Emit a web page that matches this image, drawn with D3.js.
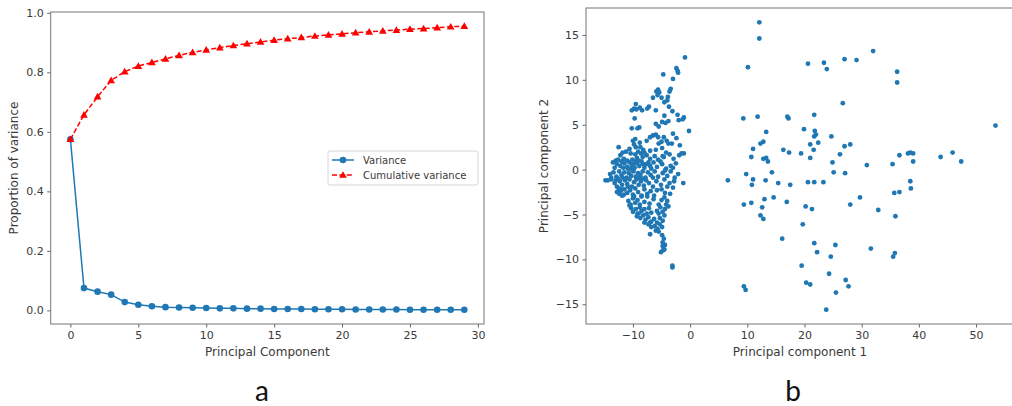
<!DOCTYPE html>
<html>
<head>
<meta charset="utf-8">
<script src="https://cdn.jsdelivr.net/npm/d3@7"></script>
<style>
  body { margin: 0; background: #fff; }
  svg text { font-family: "DejaVu Sans", sans-serif; fill: #3a3a3a; }
</style>
</head>
<body>
<svg id="fig" width="1012" height="406"></svg>
<script>
// ---- panel a : explained variance ----
const components = [0,1,2,3,4,5,6,7,8,9,10,11,12,13,14,15,16,17,18,19,20,21,22,23,24,25,26,27,28,29];
const variance = [0.575,0.075,0.063,0.053,0.028,0.019,0.014,0.011,0.010,0.009,0.008,0.007,0.007,0.006,0.006,
                  0.005,0.005,0.005,0.004,0.004,0.004,0.003,0.003,0.003,0.003,0.002,0.002,0.002,0.002,0.002];
const cumulative = [0.575,0.657,0.718,0.773,0.802,0.821,0.833,0.845,0.857,0.867,0.875,0.883,0.890,0.896,0.902,
                    0.908,0.913,0.917,0.922,0.926,0.929,0.933,0.936,0.939,0.942,0.945,0.947,0.950,0.953,0.955];
const xTicksA = [0,5,10,15,20,25,30];
const yTicksA = [0.0,0.2,0.4,0.6,0.8,1.0];
const legendLabels = ["Variance","Cumulative variance"];

// ---- panel b : scores on PC1 / PC2 ----
const scores = [
  // left cluster
  [-0.9,12.5],[-2.4,11.3],[-2.2,11.0],[-2.1,10.8],[-4.7,10.6],[-3.0,10.1],[-3.4,9.0],[-3.6,8.7],[-5.6,8.9],[-5.4,8.6],
  [-5.7,8.3],[-5.9,8.7],[-5.0,8.0],[-3.9,8.1],[-4.0,7.7],[-6.5,8.0],[-4.5,7.5],[-9.5,7.3],[-7.2,7.0],[-3.7,7.0],
  [-10.2,6.6],[-9.8,6.8],[-9.4,6.7],[-8.8,6.9],[-8.4,6.6],[-7.5,6.8],[-3.1,6.5],[-6.0,6.6],
  [-4.5,6.0],[-2.2,6.1],[-9.7,5.7],[-1.1,5.8],[-1.3,5.6],[-4.9,5.3],[-4.3,5.2],[-3.8,5.4],[-6.0,5.1],[-2.0,5.5],
  [-10.2,4.6],[-9.2,4.6],[-0.2,4.3],[-3.0,4.0],[-8.9,4.7],[-5.5,4.8],
  [-6.5,3.8],[-6.0,3.9],[-5.6,3.6],[-4.6,3.6],[-7.0,3.6],[-7.6,3.2],[-4.1,3.2],[-10.0,3.2],[-9.6,3.4],[-8.8,3.0],[-2.4,3.5],[-5.0,3.1],
  [-5.5,2.9],[-3.8,2.9],[-3.2,2.9],[-12.5,2.5],[-9.5,2.5],[-8.7,2.5],[-9.8,2.8],[-1.8,2.7],[-6.0,2.2],[-4.9,2.4],
  [-7.0,2.1],[-10.6,2.3],[-8.2,2.2],[-9.1,2.0],[-11.2,2.0],
  [-10.4,1.8],[-9.6,1.7],[-8.6,1.8],[-8.0,1.9],[-1.5,1.8],[-1.1,1.8],[-1.9,1.6],[-4.8,1.5],[-4.6,1.4],[-6.2,1.5],
  [-11.6,1.2],[-7.0,1.2],[-2.9,1.2],[-13.0,1.0],[-12.6,1.1],[-11.0,1.0],[-9.3,1.3],[-10.1,1.1],[-8.3,1.4],[-7.6,1.6],
  [-12.2,1.6],[-5.6,1.1],[-3.6,1.7],[-9.0,1.0],[-11.8,1.9],[-4.2,1.9],
  [-13.5,0.8],[-12.8,0.6],[-12.2,0.4],[-11.5,0.7],[-11.0,0.3],[-10.6,0.8],[-10.2,0.5],[-9.7,0.2],[-9.3,0.7],[-8.9,0.4],
  [-8.5,0.9],[-8.0,0.2],[-7.6,0.6],[-7.0,0.4],[-6.4,0.8],[-5.8,0.3],[-4.9,0.6],[-4.2,0.1],[-3.4,0.4],[-2.5,0.7],
  [-13.2,0.2],[-12.0,0.9],[-10.9,0.1],[-9.5,0.9],[-8.2,0.6],[-6.8,0.1],[-5.2,0.9],[-3.0,0.2],[-11.7,0.2],[-10.4,0.1],
  [-9.9,0.6],[-7.3,0.8],
  [-14.0,-0.5],[-13.4,-0.3],[-12.9,-0.8],[-12.4,-0.2],[-12.0,-0.6],[-11.5,-0.3],[-11.1,-0.9],[-10.7,-0.4],[-10.3,-0.7],[-9.9,-0.2],
  [-9.5,-0.8],[-9.1,-0.4],[-8.7,-0.6],[-8.3,-0.2],[-7.8,-0.9],[-7.4,-0.3],[-6.9,-0.6],[-6.2,-0.2],[-5.6,-0.8],[-4.8,-0.4],
  [-4.0,-0.7],[-3.4,-0.2],[-2.1,-0.5],[-13.8,-0.9],[-11.8,-0.9],[-10.0,-0.1],[-8.9,-0.95],[-6.5,-0.9],[-4.4,-0.1],[-2.7,-0.9],
  [-14.8,-1.2],[-14.4,-1.2],[-13.8,-1.1],[-13.2,-1.5],[-12.8,-1.9],[-12.3,-1.3],[-11.9,-1.7],[-11.4,-1.2],[-11.0,-1.6],[-10.6,-1.1],
  [-10.2,-1.9],[-9.8,-1.4],[-9.4,-1.1],[-9.0,-1.7],[-8.6,-1.3],[-8.1,-1.8],[-7.7,-1.2],[-7.2,-1.5],[-6.5,-1.9],[-5.9,-1.3],
  [-5.1,-1.7],[-4.5,-1.1],[-3.6,-1.5],[-2.8,-1.3],[-1.2,-1.5],[-12.6,-1.0],[-10.9,-1.9],[-8.3,-1.0],[-4.0,-1.9],[-13.0,-1.2],
  [-12.5,-2.1],[-12.2,-2.4],[-12.4,-2.7],[-11.9,-2.9],[-12.8,-2.5],[-11.5,-2.2],[-11.0,-2.6],[-10.5,-2.3],[-10.0,-2.8],[-9.6,-2.1],
  [-9.1,-2.5],[-8.5,-2.9],[-8.0,-2.2],[-7.5,-2.7],[-6.9,-2.4],[-5.8,-2.3],[-5.0,-2.2],[-4.4,-2.6],[-3.0,-2.0],[-3.5,-2.7],
  [-12.0,-2.2],[-11.6,-2.8],[-6.3,-2.9],
  [-10.8,-3.5],[-10.4,-3.9],[-10.0,-3.2],[-9.6,-3.7],[-9.2,-3.4],[-8.8,-3.9],[-8.5,-3.0],[-8.0,-3.6],[-7.5,-3.0],[-7.1,-3.8],
  [-5.0,-3.4],[-4.5,-3.1],[-4.0,-3.5],[-5.5,-3.9],[-4.2,-3.9],[-9.8,-3.0],[-6.4,-3.3],
  [-10.3,-4.3],[-10.0,-4.7],[-9.5,-4.4],[-9.2,-4.9],[-8.8,-4.2],[-8.5,-4.6],[-8.0,-4.4],[-7.6,-4.9],[-7.2,-4.3],[-5.8,-4.6],
  [-5.2,-4.2],[-4.8,-4.7],[-4.4,-4.4],[-3.8,-4.1],[-10.6,-4.0],[-9.0,-4.9],[-6.8,-4.8],[-5.5,-4.9],
  [-9.3,-5.2],[-8.7,-5.4],[-8.2,-5.1],[-7.8,-5.6],[-7.3,-5.3],[-6.8,-5.8],[-6.3,-5.5],[-5.8,-5.9],[-5.3,-5.4],[-4.8,-5.7],
  [-4.5,-5.1],[-7.0,-5.9],[-8.0,-5.9],
  [-7.3,-6.1],[-6.8,-6.4],[-6.2,-6.3],[-5.7,-6.6],[-5.3,-6.1],[-4.9,-6.4],[-6.0,-6.8],[-5.5,-6.9],
  [-7.0,-7.2],[-4.9,-7.3],[-4.6,-7.7],[-4.8,-8.1],[-4.8,-8.5],[-4.4,-8.4],[-4.8,-9.0],[-5.1,-9.2],[-4.5,-8.9],[-3.1,-10.7],[-3.1,-10.9],
  // right, sparse group
  [12.1,16.4],[12.1,14.6],[10.1,11.4],[20.6,11.8],[23.4,11.9],[23.9,11.2],[27.0,12.3],[29.1,12.2],[32.0,13.2],[36.2,10.9],
  [36.2,9.7],[26.7,7.4],[6.6,-1.2],[9.3,5.7],[11.8,5.9],[17.0,5.9],[17.2,5.7],[21.7,6.1],[13.3,4.2],[12.3,2.9],
  [12.8,3.1],[11.0,2.3],[10.7,1.4],[12.8,1.2],[13.3,1.3],[13.6,0.9],[16.3,2.2],[17.3,1.9],[19.4,1.8],[19.9,4.5],
  [21.0,2.8],[21.0,1.3],[21.6,2.2],[21.7,3.7],[22.0,3.9],[21.8,4.3],[22.4,3.0],[24.7,3.7],[24.9,0.8],[25.1,-0.3],
  [26.2,1.7],[27.0,2.6],[28.0,2.8],[27.1,-0.4],[30.9,0.5],[35.4,0.6],[36.6,1.6],[38.1,1.8],[38.5,1.9],[39.0,1.8],
  [39.0,0.9],[38.5,-1.3],[38.6,-2.1],[35.7,-2.6],[36.6,-2.5],[43.8,1.4],[45.9,1.9],[47.4,0.9],[53.4,4.9],[9.8,-0.5],
  [11.0,-1.1],[10.8,-1.7],[13.2,-1.2],[14.3,-0.3],[15.4,-1.5],[17.5,-1.7],[20.6,-1.4],[21.7,-1.4],[23.3,-1.4],[14.6,-3.1],
  [13.0,-3.3],[10.7,-3.7],[9.4,-3.9],[12.6,-4.2],[16.9,-3.6],[20.2,-4.1],[21.3,-4.4],[28.0,-3.9],[29.7,-3.1],[32.9,-4.5],
  [35.9,-5.2],[12.3,-5.1],[12.8,-5.5],[19.7,-6.1],[16.1,-7.7],[21.7,-8.2],[22.2,-9.2],[25.4,-8.4],[24.6,-9.7],[31.6,-8.8],
  [35.5,-9.7],[35.8,-9.3],[19.5,-10.7],[24.3,-11.6],[20.3,-12.6],[21.0,-12.8],[27.2,-12.3],[27.7,-13.0],[25.5,-13.7],[23.8,-15.6],
  [9.4,-13.0],[9.7,-13.4]
];
const xTicksB = [-10,0,10,20,30,40,50];
const yTicksB = [-15,-10,-5,0,5,10,15];

const blue = "#1f77b4", red = "#ff0000", spine = "#777", tickCol = "#555";
const svg = d3.select("#fig");

// matplotlib style 5% margins
function pad(ext) { const s = ext[1] - ext[0]; return [ext[0] - 0.05 * s, ext[1] + 0.05 * s]; }

function styleAxis(g) {
  g.select(".domain").remove();
  g.selectAll(".tick line").attr("stroke", tickCol).attr("stroke-width", 0.9);
  g.selectAll(".tick text").style("font-size", "11px").style("fill", "#3a3a3a");
}

// ---------- panel a ----------
const A = { left: 50.7, right: 484, top: 12, bottom: 324 };
const xa = d3.scaleLinear().domain(pad(d3.extent(components))).range([A.left, A.right]);
const ya = d3.scaleLinear().domain(pad([d3.min(variance), d3.max(cumulative)])).range([A.bottom, A.top]);

svg.append("g").attr("transform", `translate(0,${A.bottom})`)
  .call(d3.axisBottom(xa).tickValues(xTicksA).tickSize(3.5).tickPadding(3.5))
  .call(styleAxis);
svg.append("g").attr("transform", `translate(${A.left},0)`)
  .call(d3.axisLeft(ya).tickValues(yTicksA).tickFormat(d3.format(".1f")).tickSize(3.5).tickPadding(3.5))
  .call(styleAxis);

const lineVar = d3.line().x((d, i) => xa(components[i])).y(d => ya(d));
svg.append("path").datum(variance).attr("d", lineVar)
  .attr("fill", "none").attr("stroke", blue).attr("stroke-width", 1.5);
svg.append("g").selectAll("circle").data(variance).enter().append("circle")
  .attr("cx", (d, i) => xa(components[i])).attr("cy", d => ya(d)).attr("r", 3.3).attr("fill", blue);

svg.append("path").datum(cumulative).attr("d", lineVar)
  .attr("fill", "none").attr("stroke", red).attr("stroke-width", 1.5).attr("stroke-dasharray", "5,2.4");
const tri = d3.symbol().type(d3.symbolTriangle).size(26);
svg.append("g").selectAll("path").data(cumulative).enter().append("path")
  .attr("d", tri).attr("transform", (d, i) => `translate(${xa(components[i])},${ya(d) + 0.6})`).attr("fill", red);

svg.append("rect").attr("x", A.left).attr("y", A.top).attr("width", A.right - A.left).attr("height", A.bottom - A.top)
  .attr("fill", "none").attr("stroke", spine).attr("stroke-width", 1);

svg.append("text").attr("x", (A.left + A.right) / 2).attr("y", 356).attr("text-anchor", "middle")
  .style("font-size", "12px").text("Principal Component");
svg.append("text").attr("transform", `translate(18,${(A.top + A.bottom) / 2}) rotate(-90)`).attr("text-anchor", "middle")
  .style("font-size", "12px").text("Proportion of variance");

// legend
const leg = svg.append("g").attr("transform", "translate(328,151)");
leg.append("rect").attr("width", 150).attr("height", 34).attr("rx", 2.5)
  .attr("fill", "#fff").attr("fill-opacity", 0.85).attr("stroke", "#d6d6d6");
leg.append("line").attr("x1", 4).attr("x2", 26).attr("y1", 9).attr("y2", 9).attr("stroke", blue).attr("stroke-width", 1.5);
leg.append("circle").attr("cx", 15).attr("cy", 9).attr("r", 3.3).attr("fill", blue);
leg.append("line").attr("x1", 4).attr("x2", 26).attr("y1", 24).attr("y2", 24).attr("stroke", red)
  .attr("stroke-width", 1.5).attr("stroke-dasharray", "5,2.4");
leg.append("path").attr("d", tri).attr("transform", "translate(15,24.6)").attr("fill", red);
leg.selectAll("text.lab").data(legendLabels).enter().append("text").attr("class", "lab")
  .attr("x", 35).attr("y", (d, i) => 12.5 + i * 15).style("font-size", "10px").text(d => d);

// ---------- panel b ----------
const B = { left: 586, right: 1015, top: 8, bottom: 324 };
const xb = d3.scaleLinear().domain(pad(d3.extent(scores, d => d[0]))).range([B.left, B.right]);
const yb = d3.scaleLinear().domain(pad(d3.extent(scores, d => d[1]))).range([B.bottom, B.top]);

svg.append("g").attr("transform", `translate(0,${B.bottom})`)
  .call(d3.axisBottom(xb).tickValues(xTicksB).tickSize(3.5).tickPadding(3.5))
  .call(styleAxis);
svg.append("g").attr("transform", `translate(${B.left},0)`)
  .call(d3.axisLeft(yb).tickValues(yTicksB).tickSize(3.5).tickPadding(3.5))
  .call(styleAxis);

svg.append("g").selectAll("circle").data(scores).enter().append("circle")
  .attr("cx", d => xb(d[0])).attr("cy", d => yb(d[1])).attr("r", 2.4).attr("fill", blue);

svg.append("rect").attr("x", B.left).attr("y", B.top).attr("width", B.right - B.left).attr("height", B.bottom - B.top)
  .attr("fill", "none").attr("stroke", spine).attr("stroke-width", 1);

svg.append("text").attr("x", 800).attr("y", 356).attr("text-anchor", "middle")
  .style("font-size", "12px").text("Principal component 1");
svg.append("text").attr("transform", `translate(548,${(B.top + B.bottom) / 2}) rotate(-90)`).attr("text-anchor", "middle")
  .style("font-size", "12px").text("Principal component 2");

// panel letters
svg.append("text").attr("x", 262).attr("y", 401).attr("text-anchor", "middle")
  .style("font-family", "Lato, sans-serif").style("font-size", "28px").style("fill", "#111").text("a");
svg.append("text").attr("x", 793).attr("y", 401).attr("text-anchor", "middle")
  .style("font-family", "Lato, sans-serif").style("font-size", "28px").style("fill", "#111").text("b");
</script>
</body>
</html>
